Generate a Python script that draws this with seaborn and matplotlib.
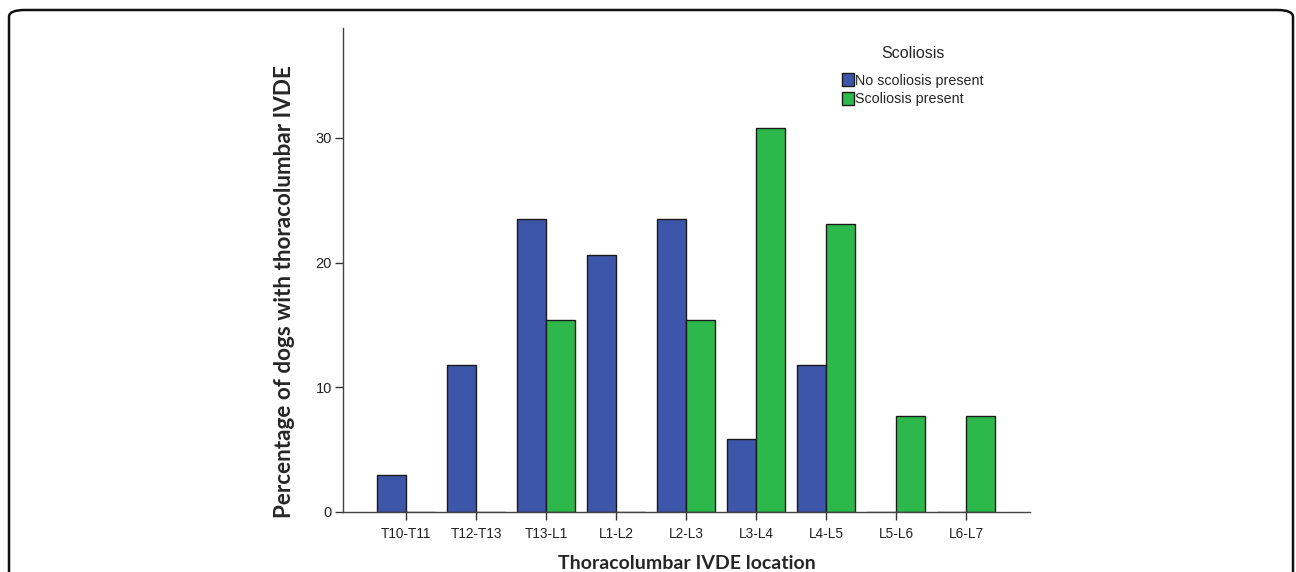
import pandas as pd
import matplotlib.pyplot as plt
import seaborn as sns
from matplotlib.patches import FancyBboxPatch

locations = ["T10-T11", "T12-T13", "T13-L1", "L1-L2", "L2-L3", "L3-L4", "L4-L5", "L5-L6", "L6-L7"]
no_scoliosis = [2.94, 11.76, 23.53, 20.59, 23.53, 5.88, 11.76, 0.0, 0.0]
scoliosis = [0.0, 0.0, 15.38, 0.0, 15.38, 30.77, 23.08, 7.69, 7.69]
groups = ["No scoliosis present", "Scoliosis present"]
colors = ["#3E56A9", "#2DB84C"]

df = pd.DataFrame({
    "location": locations * 2,
    "pct": no_scoliosis + scoliosis,
    "group": [groups[0]] * len(locations) + [groups[1]] * len(locations),
})

sns.set_style("white")
plt.rcParams["font.family"] = ["Liberation Sans", "DejaVu Sans"]

fig = plt.figure(figsize=(12.96, 5.72), dpi=100)
ax = fig.add_axes([0.2647, 0.1049, 0.530, 0.846])

sns.barplot(data=df, x="location", y="pct", hue="group", order=locations,
            hue_order=groups, palette=colors, edgecolor="#1a1a1a", linewidth=1,
            width=0.83, saturation=1, ax=ax)

ax.set_xlim(-0.9, 8.91)
ax.set_ylim(0, 38.8)
ax.set_yticks([0, 10, 20, 30])
ax.tick_params(axis="both", which="both", direction="out", length=6, width=1,
               color="#333333", labelsize=9.8, labelcolor="#222222", left=True, bottom=True)
ax.tick_params(axis="y", labelsize=10.5, pad=2)
ax.tick_params(axis="x", pad=5)
for s in ["top", "right"]:
    ax.spines[s].set_visible(False)
for s in ["left", "bottom"]:
    ax.spines[s].set_color("#444444")
    ax.spines[s].set_linewidth(1)

ax.set_xlabel("Thoracolumbar IVDE location", fontsize=14, fontweight="bold",
              family=["Lato", "DejaVu Sans"], labelpad=10)
ax.set_ylabel("Percentage of dogs with thoracolumbar IVDE", fontsize=16.2, fontweight="bold",
              family=["Lato", "DejaVu Sans"])
ax.yaxis.set_label_coords(-0.07, 0.455)

leg = ax.legend(title="Scoliosis", loc="upper left", bbox_to_anchor=(0.716, 0.978),
                frameon=False, fontsize=10.3, title_fontsize=11.5, handlelength=0.85,
                handleheight=1.0, handletextpad=0.05, labelspacing=0.3, borderpad=0)
leg._legend_box.align = "center"
leg._legend_box.sep = 9
for h in leg.legend_handles:
    h.set_edgecolor("#1a1a1a")
    h.set_linewidth(1)

border = FancyBboxPatch((9 / 1296, -0.05), 1284 / 1296, 1.05 - 10 / 572,
                        boxstyle="round,pad=0,rounding_size=0.012",
                        transform=fig.transFigure, fill=False, edgecolor="#111111",
                        linewidth=1.8, clip_on=False)
fig.patches.append(border)

fig.savefig("out.png", dpi=100)
